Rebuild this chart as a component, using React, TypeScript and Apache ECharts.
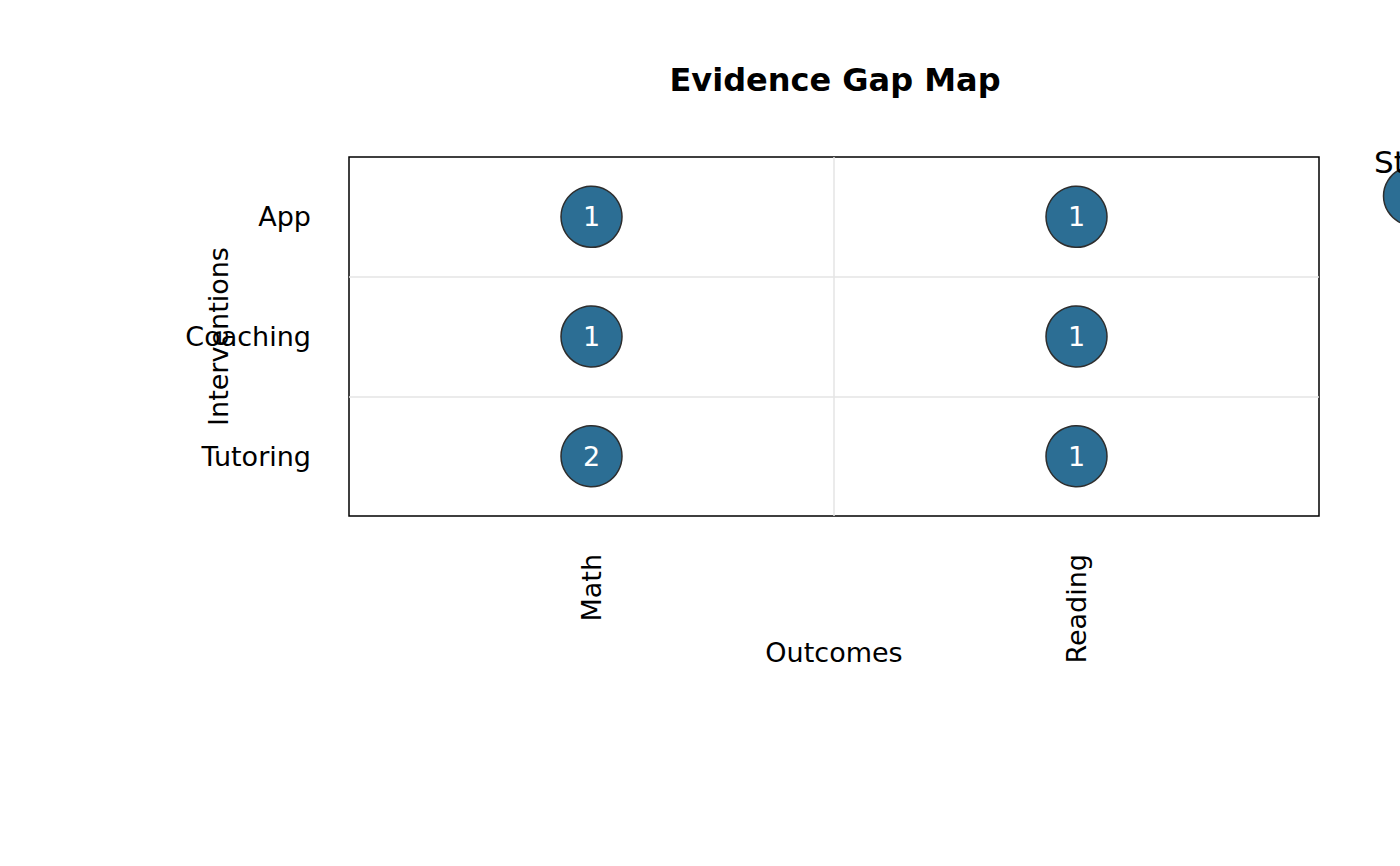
import React, { useEffect, useRef } from "react";
import * as echarts from "echarts";

const outcomes = ["Math", "Reading"];
const interventions = ["App", "Coaching", "Tutoring"];
// [outcomeIndex, interventionIndex, studies]
const cells: [number, number, number][] = [
  [0, 0, 1],
  [1, 0, 1],
  [0, 1, 1],
  [1, 1, 1],
  [0, 2, 2],
  [1, 2, 1],
];
const legendTitle = "Studies";

const FONT = "DejaVu Sans";

export default function App() {
  const ref = useRef<HTMLDivElement>(null);
  useEffect(() => {
    if (!ref.current) return;
    const chart = echarts.init(ref.current, null, { renderer: "svg" });
    chart.setOption({
      animation: false,
      backgroundColor: "#ffffff",
      textStyle: { fontFamily: FONT },
      title: {
        text: "Evidence Gap Map",
        left: 830,
        top: 59,
        textAlign: "center",
        textStyle: { fontFamily: FONT, fontWeight: "bold", fontSize: 32, color: "#000" },
      },
      grid: {
        left: 349,
        right: 81,
        top: 157,
        bottom: 350,
        show: true,
        borderColor: "#000",
        borderWidth: 1.5,
        backgroundColor: "transparent",
      },
      xAxis: {
        type: "category",
        data: outcomes,
        name: "Outcomes",
        nameLocation: "middle",
        nameGap: 123,
        nameMoveOverlap: false,
        nameTextStyle: { fontFamily: FONT, fontSize: 27, color: "#000" },
        axisLine: { show: false },
        axisTick: { show: false },
        axisLabel: { rotate: 90, margin: 38, fontFamily: FONT, fontSize: 27, color: "#000" },
        splitLine: {
          show: true,
          showMinLine: false,
          showMaxLine: false,
          lineStyle: { color: "#e5e5e5", width: 1.5 },
        },
      },
      yAxis: {
        type: "category",
        data: interventions,
        inverse: true,
        name: "Interventions",
        nameLocation: "middle",
        nameGap: 117,
        nameMoveOverlap: false,
        nameTextStyle: { fontFamily: FONT, fontSize: 27, color: "#000" },
        axisLine: { show: false },
        axisTick: { show: false },
        axisLabel: { margin: 38, fontFamily: FONT, fontSize: 27, color: "#000" },
        splitLine: {
          show: true,
          showMinLine: false,
          showMaxLine: false,
          lineStyle: { color: "#e5e5e5", width: 1.5 },
        },
      },
      series: [
        {
          type: "scatter",
          data: cells,
          symbolSize: 61,
          itemStyle: { color: "#2c6e94", borderColor: "#2e2e2e", borderWidth: 1.5, opacity: 1 },
          label: {
            show: true,
            position: "inside",
            formatter: (p: any) => String(p.value[2]),
            color: "#fff",
            fontFamily: FONT,
            fontSize: 27,
          },
          z: 5,
        },
      ],
      graphic: [
        {
          type: "circle",
          shape: { cx: 1413, cy: 196, r: 29.5 },
          style: { fill: "#2c6e94", stroke: "#2e2e2e", lineWidth: 1.5 },
          z: 10,
        },
        {
          type: "text",
          x: 1374,
          y: 146,
          style: { text: legendTitle, fontFamily: FONT, fontSize: 31, fill: "#000" },
          z: 11,
        },
      ],
    });
    return () => chart.dispose();
  }, []);
  return (
    <div
      ref={ref}
      style={{ position: "absolute", left: 0, top: 0, width: 1400, height: 866 }}
    />
  );
}
